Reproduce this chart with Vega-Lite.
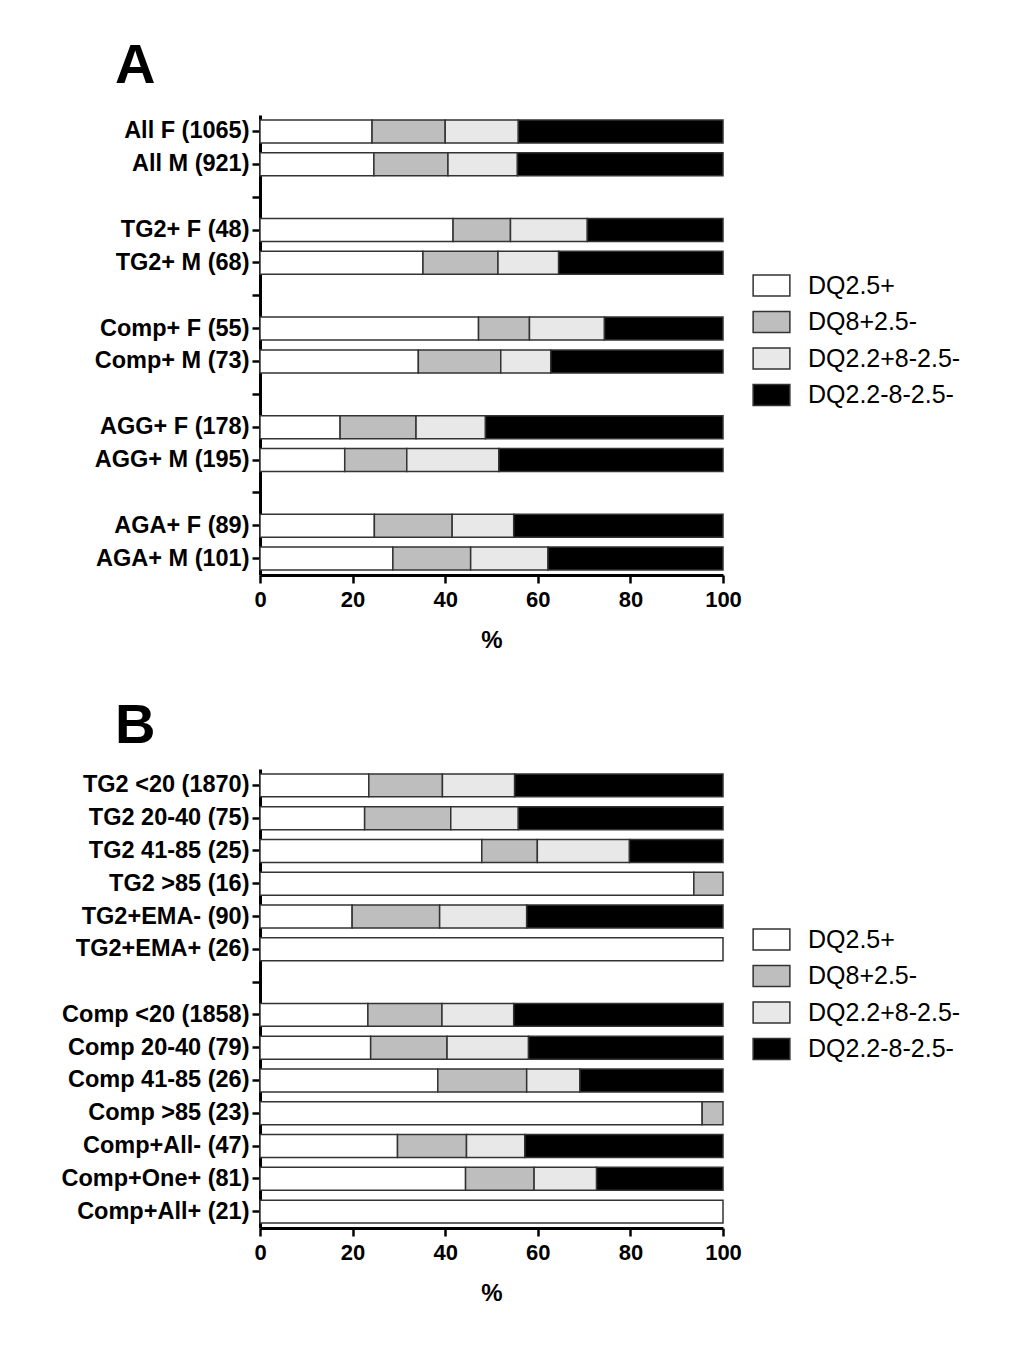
{
  "$schema": "https://vega.github.io/schema/vega-lite/v6.json",
  "autosize": {"type": "none"},
  "padding": {"left": 260, "top": 115, "right": 750, "bottom": 1241},
  "background": "white",
  "config": {
    "view": {"stroke": null},
    "font": "Liberation Sans",
    "axis": {
      "domainColor": "black", "domainWidth": 3, "tickColor": "black", "tickWidth": 2.5, "tickSize": 8,
      "labelFont": "Liberation Sans", "labelFontWeight": "bold", "labelFontSize": 22, "labelColor": "black", "labelLimit": 400,
      "titleFont": "Liberation Sans", "titleFontWeight": "bold", "titleFontSize": 24, "titleColor": "black", "grid": false
    },
    "legend": {
      "labelFont": "Liberation Sans", "labelFontSize": 25, "labelColor": "black", "labelFontWeight": "normal", "labelLimit": 400,
      "symbolType": "M-1.75,-1L1.75,-1L1.75,1L-1.75,1Z", "symbolSize": 441,
      "symbolStrokeColor": "#333333", "symbolStrokeWidth": 1.5, "symbolOpacity": 1,
      "rowPadding": 9.5, "labelOffset": 24, "orient": "none", "legendX": 499, "legendY": 158, "title": null
    },
    "title": {"font": "Liberation Sans", "fontSize": 56, "fontWeight": "bold", "color": "black", "anchor": "start", "frame": "group", "dx": -145, "baseline": "alphabetic"}
  },
  "datasets": {
    "a": [
      {"g": "All F (1065)", "c": "DQ2.5+", "k": 1, "v": 24.2},
      {"g": "All F (1065)", "c": "DQ8+2.5-", "k": 2, "v": 15.8},
      {"g": "All F (1065)", "c": "DQ2.2+8-2.5-", "k": 3, "v": 15.8},
      {"g": "All F (1065)", "c": "DQ2.2-8-2.5-", "k": 4, "v": 44.2},
      {"g": "All M (921)", "c": "DQ2.5+", "k": 1, "v": 24.6},
      {"g": "All M (921)", "c": "DQ8+2.5-", "k": 2, "v": 16.0},
      {"g": "All M (921)", "c": "DQ2.2+8-2.5-", "k": 3, "v": 15.0},
      {"g": "All M (921)", "c": "DQ2.2-8-2.5-", "k": 4, "v": 44.4},
      {"g": "TG2+ F (48)", "c": "DQ2.5+", "k": 1, "v": 41.7},
      {"g": "TG2+ F (48)", "c": "DQ8+2.5-", "k": 2, "v": 12.4},
      {"g": "TG2+ F (48)", "c": "DQ2.2+8-2.5-", "k": 3, "v": 16.6},
      {"g": "TG2+ F (48)", "c": "DQ2.2-8-2.5-", "k": 4, "v": 29.3},
      {"g": "TG2+ M (68)", "c": "DQ2.5+", "k": 1, "v": 35.2},
      {"g": "TG2+ M (68)", "c": "DQ8+2.5-", "k": 2, "v": 16.2},
      {"g": "TG2+ M (68)", "c": "DQ2.2+8-2.5-", "k": 3, "v": 13.1},
      {"g": "TG2+ M (68)", "c": "DQ2.2-8-2.5-", "k": 4, "v": 35.5},
      {"g": "Comp+ F (55)", "c": "DQ2.5+", "k": 1, "v": 47.2},
      {"g": "Comp+ F (55)", "c": "DQ8+2.5-", "k": 2, "v": 11.0},
      {"g": "Comp+ F (55)", "c": "DQ2.2+8-2.5-", "k": 3, "v": 16.2},
      {"g": "Comp+ F (55)", "c": "DQ2.2-8-2.5-", "k": 4, "v": 25.6},
      {"g": "Comp+ M (73)", "c": "DQ2.5+", "k": 1, "v": 34.2},
      {"g": "Comp+ M (73)", "c": "DQ8+2.5-", "k": 2, "v": 17.8},
      {"g": "Comp+ M (73)", "c": "DQ2.2+8-2.5-", "k": 3, "v": 10.8},
      {"g": "Comp+ M (73)", "c": "DQ2.2-8-2.5-", "k": 4, "v": 37.2},
      {"g": "AGG+ F (178)", "c": "DQ2.5+", "k": 1, "v": 17.3},
      {"g": "AGG+ F (178)", "c": "DQ8+2.5-", "k": 2, "v": 16.4},
      {"g": "AGG+ F (178)", "c": "DQ2.2+8-2.5-", "k": 3, "v": 15.0},
      {"g": "AGG+ F (178)", "c": "DQ2.2-8-2.5-", "k": 4, "v": 51.3},
      {"g": "AGG+ M (195)", "c": "DQ2.5+", "k": 1, "v": 18.3},
      {"g": "AGG+ M (195)", "c": "DQ8+2.5-", "k": 2, "v": 13.4},
      {"g": "AGG+ M (195)", "c": "DQ2.2+8-2.5-", "k": 3, "v": 19.9},
      {"g": "AGG+ M (195)", "c": "DQ2.2-8-2.5-", "k": 4, "v": 48.4},
      {"g": "AGA+ F (89)", "c": "DQ2.5+", "k": 1, "v": 24.7},
      {"g": "AGA+ F (89)", "c": "DQ8+2.5-", "k": 2, "v": 16.8},
      {"g": "AGA+ F (89)", "c": "DQ2.2+8-2.5-", "k": 3, "v": 13.3},
      {"g": "AGA+ F (89)", "c": "DQ2.2-8-2.5-", "k": 4, "v": 45.2},
      {"g": "AGA+ M (101)", "c": "DQ2.5+", "k": 1, "v": 28.7},
      {"g": "AGA+ M (101)", "c": "DQ8+2.5-", "k": 2, "v": 16.8},
      {"g": "AGA+ M (101)", "c": "DQ2.2+8-2.5-", "k": 3, "v": 16.7},
      {"g": "AGA+ M (101)", "c": "DQ2.2-8-2.5-", "k": 4, "v": 37.8}
    ],
    "b": [
      {"g": "TG2 <20 (1870)", "c": "DQ2.5+", "k": 1, "v": 23.5},
      {"g": "TG2 <20 (1870)", "c": "DQ8+2.5-", "k": 2, "v": 15.9},
      {"g": "TG2 <20 (1870)", "c": "DQ2.2+8-2.5-", "k": 3, "v": 15.6},
      {"g": "TG2 <20 (1870)", "c": "DQ2.2-8-2.5-", "k": 4, "v": 45.0},
      {"g": "TG2 20-40 (75)", "c": "DQ2.5+", "k": 1, "v": 22.6},
      {"g": "TG2 20-40 (75)", "c": "DQ8+2.5-", "k": 2, "v": 18.6},
      {"g": "TG2 20-40 (75)", "c": "DQ2.2+8-2.5-", "k": 3, "v": 14.6},
      {"g": "TG2 20-40 (75)", "c": "DQ2.2-8-2.5-", "k": 4, "v": 44.2},
      {"g": "TG2 41-85 (25)", "c": "DQ2.5+", "k": 1, "v": 47.9},
      {"g": "TG2 41-85 (25)", "c": "DQ8+2.5-", "k": 2, "v": 12.0},
      {"g": "TG2 41-85 (25)", "c": "DQ2.2+8-2.5-", "k": 3, "v": 19.9},
      {"g": "TG2 41-85 (25)", "c": "DQ2.2-8-2.5-", "k": 4, "v": 20.2},
      {"g": "TG2 >85 (16)", "c": "DQ2.5+", "k": 1, "v": 93.7},
      {"g": "TG2 >85 (16)", "c": "DQ8+2.5-", "k": 2, "v": 6.3},
      {"g": "TG2+EMA- (90)", "c": "DQ2.5+", "k": 1, "v": 19.9},
      {"g": "TG2+EMA- (90)", "c": "DQ8+2.5-", "k": 2, "v": 18.9},
      {"g": "TG2+EMA- (90)", "c": "DQ2.2+8-2.5-", "k": 3, "v": 18.8},
      {"g": "TG2+EMA- (90)", "c": "DQ2.2-8-2.5-", "k": 4, "v": 42.4},
      {"g": "TG2+EMA+ (26)", "c": "DQ2.5+", "k": 1, "v": 100},
      {"g": "Comp <20 (1858)", "c": "DQ2.5+", "k": 1, "v": 23.3},
      {"g": "Comp <20 (1858)", "c": "DQ8+2.5-", "k": 2, "v": 16.0},
      {"g": "Comp <20 (1858)", "c": "DQ2.2+8-2.5-", "k": 3, "v": 15.5},
      {"g": "Comp <20 (1858)", "c": "DQ2.2-8-2.5-", "k": 4, "v": 45.2},
      {"g": "Comp 20-40 (79)", "c": "DQ2.5+", "k": 1, "v": 23.9},
      {"g": "Comp 20-40 (79)", "c": "DQ8+2.5-", "k": 2, "v": 16.5},
      {"g": "Comp 20-40 (79)", "c": "DQ2.2+8-2.5-", "k": 3, "v": 17.6},
      {"g": "Comp 20-40 (79)", "c": "DQ2.2-8-2.5-", "k": 4, "v": 42.0},
      {"g": "Comp 41-85 (26)", "c": "DQ2.5+", "k": 1, "v": 38.4},
      {"g": "Comp 41-85 (26)", "c": "DQ8+2.5-", "k": 2, "v": 19.2},
      {"g": "Comp 41-85 (26)", "c": "DQ2.2+8-2.5-", "k": 3, "v": 11.5},
      {"g": "Comp 41-85 (26)", "c": "DQ2.2-8-2.5-", "k": 4, "v": 30.9},
      {"g": "Comp >85 (23)", "c": "DQ2.5+", "k": 1, "v": 95.5},
      {"g": "Comp >85 (23)", "c": "DQ8+2.5-", "k": 2, "v": 4.5},
      {"g": "Comp+All- (47)", "c": "DQ2.5+", "k": 1, "v": 29.7},
      {"g": "Comp+All- (47)", "c": "DQ8+2.5-", "k": 2, "v": 14.9},
      {"g": "Comp+All- (47)", "c": "DQ2.2+8-2.5-", "k": 3, "v": 12.6},
      {"g": "Comp+All- (47)", "c": "DQ2.2-8-2.5-", "k": 4, "v": 42.8},
      {"g": "Comp+One+ (81)", "c": "DQ2.5+", "k": 1, "v": 44.4},
      {"g": "Comp+One+ (81)", "c": "DQ8+2.5-", "k": 2, "v": 14.8},
      {"g": "Comp+One+ (81)", "c": "DQ2.2+8-2.5-", "k": 3, "v": 13.5},
      {"g": "Comp+One+ (81)", "c": "DQ2.2-8-2.5-", "k": 4, "v": 27.3},
      {"g": "Comp+All+ (21)", "c": "DQ2.5+", "k": 1, "v": 100}
    ]
  },
  "vconcat": [
    {
      "title": {"text": "A", "offset": 20},
      "data": {"name": "a"},
      "width": 463,
      "height": 460,
      "mark": {"type": "bar", "stroke": "#333333", "strokeWidth": 1.5},
      "encoding": {
        "y": {
          "field": "g", "type": "nominal",
          "scale": {
            "domain": ["All F (1065)", "All M (921)", "gap1", "TG2+ F (48)", "TG2+ M (68)", "gap2", "Comp+ F (55)", "Comp+ M (73)", "gap3", "AGG+ F (178)", "AGG+ M (195)", "gap4", "AGA+ F (89)", "AGA+ M (101)"],
            "paddingInner": 0.3, "paddingOuter": 0.15
          },
          "axis": {"title": null, "labelPadding": 3, "labelFontSize": 23.5, "labelLimit": 400, "labelExpr": "indexof(datum.value, 'gap') == 0 ? '' : datum.value"}
        },
        "x": {
          "field": "v", "type": "quantitative", "stack": "zero",
          "scale": {"domain": [0, 100], "nice": false},
          "axis": {"title": "%", "values": [0, 20, 40, 60, 80, 100], "labelFlush": false, "labelPadding": 6, "titlePadding": 18}
        },
        "color": {
          "field": "c", "type": "nominal",
          "scale": {"domain": ["DQ2.5+", "DQ8+2.5-", "DQ2.2+8-2.5-", "DQ2.2-8-2.5-"], "range": ["#ffffff", "#bebebe", "#e8e8e8", "#000000"]},
          "legend": {}
        },
        "order": {"field": "k", "type": "quantitative"}
      }
    },
    {
      "title": {"text": "B", "offset": 14},
      "data": {"name": "b"},
      "width": 463,
      "height": 459,
      "mark": {"type": "bar", "stroke": "#333333", "strokeWidth": 1.5},
      "encoding": {
        "y": {
          "field": "g", "type": "nominal",
          "scale": {
            "domain": ["TG2 <20 (1870)", "TG2 20-40 (75)", "TG2 41-85 (25)", "TG2 >85 (16)", "TG2+EMA- (90)", "TG2+EMA+ (26)", "gap1", "Comp <20 (1858)", "Comp 20-40 (79)", "Comp 41-85 (26)", "Comp >85 (23)", "Comp+All- (47)", "Comp+One+ (81)", "Comp+All+ (21)"],
            "paddingInner": 0.3, "paddingOuter": 0.15
          },
          "axis": {"title": null, "labelPadding": 3, "labelFontSize": 23.5, "labelLimit": 400, "labelExpr": "indexof(datum.value, 'gap') == 0 ? '' : datum.value"}
        },
        "x": {
          "field": "v", "type": "quantitative", "stack": "zero",
          "scale": {"domain": [0, 100], "nice": false},
          "axis": {"title": "%", "values": [0, 20, 40, 60, 80, 100], "labelFlush": false, "labelPadding": 6, "titlePadding": 18}
        },
        "color": {
          "field": "c", "type": "nominal",
          "scale": {"domain": ["DQ2.5+", "DQ8+2.5-", "DQ2.2+8-2.5-", "DQ2.2-8-2.5-"], "range": ["#ffffff", "#bebebe", "#e8e8e8", "#000000"]},
          "legend": {}
        },
        "order": {"field": "k", "type": "quantitative"}
      }
    }
  ],
  "spacing": 194,
  "bounds": "flush",
  "resolve": {"scale": {"color": "independent", "y": "independent"}}
}
